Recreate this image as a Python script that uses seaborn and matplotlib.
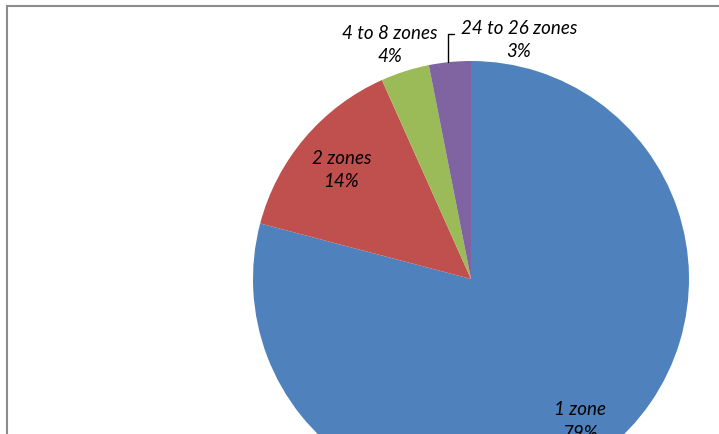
"""Pie chart: share of items by number of zones."""

import matplotlib.pyplot as plt
import numpy as np
import seaborn as sns
from matplotlib.patches import Rectangle

# data
categories = ["1 zone", "2 zones", "4 to 8 zones", "24 to 26 zones"]
shares = [79.1, 14.2, 3.6, 3.1]
pct_labels = ["79%", "14%", "4%", "3%"]
colors = ["#4F81BD", "#C0504D", "#9BBB59", "#8064A2"]

sns.set_theme(style="white")
plt.rcParams["font.family"] = ["Lato", "DejaVu Sans"]

W, H = 719, 435
fig = plt.figure(figsize=(W / 100, H / 100), dpi=100)
ax = fig.add_axes([0, 0, 1, 1])

# plot-area border (only top and left edges are visible in the crop)
ax.add_patch(Rectangle((7, -20), 900, H - 6.5 + 20, fill=False,
                       edgecolor="#8C8C8C", lw=1.5))

cx, cy, r = 471, H - 280, 218
wedges, _ = ax.pie(shares, colors=sns.color_palette(colors), startangle=90,
                   counterclock=False, center=(cx, cy), radius=r, frame=True,
                   wedgeprops=dict(edgecolor="none"))
ax.set_xlim(0, W)
ax.set_ylim(0, H)
ax.set_aspect("equal")
ax.axis("off")

font = dict(fontsize=13.5, style="italic", color="black",
            ha="center", va="center", linespacing=1.45)

# inside labels along each wedge's mid angle
for i, dist in [(0, 0.82), (1, 0.78)]:
    w = wedges[i]
    mid = np.deg2rad((w.theta1 + w.theta2) / 2)
    ax.text(cx + dist * r * np.cos(mid), cy + dist * r * np.sin(mid),
            f"{categories[i]}\n{pct_labels[i]}", **font)

# outside labels for the thin wedges
ax.text(390, H - 45, f"{categories[2]}\n{pct_labels[2]}", **font)
ax.text(519, H - 40, f"{categories[3]}\n{pct_labels[3]}", **font)
ax.plot([454, 448, 448], [H - 35, H - 35, H - 63], color="black", lw=1)

fig.savefig("out.png", dpi=100)
